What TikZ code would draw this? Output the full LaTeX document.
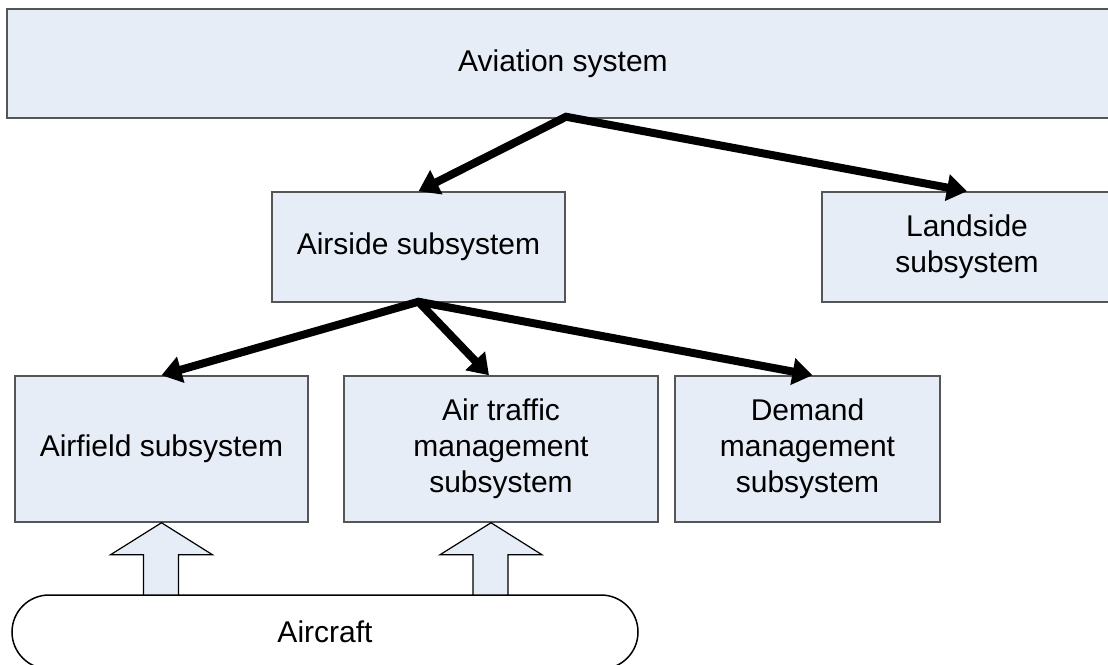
\documentclass[tikz,border=0pt]{standalone}
\usepackage{fontspec}
\setmainfont{Liberation Sans}
\usetikzlibrary{arrows.meta,calc}
\definecolor{boxfill}{RGB}{230,237,247}
\definecolor{boxline}{RGB}{85,85,85}
\begin{document}
\begin{tikzpicture}[x=1pt,y=-1pt,
  >={Triangle[length=20pt,width=26pt]},
  sysbox/.style={draw=boxline,line width=1.5pt,fill=boxfill,inner sep=0pt,align=center,
    font=\fontsize{30}{36}\selectfont},
  link/.style={line width=8pt,line join=miter},
  blockarrow/.style={draw=black,line width=1.2pt,fill=boxfill,line join=miter}]
\useasboundingbox (0,0) rectangle (1108,664);
\clip (0,0) rectangle (1108,664);

\node[sysbox,minimum width=1112pt,minimum height=109pt] (av) at (563,63.5) {\raisebox{-3pt}{Aviation system}};
\node[sysbox,minimum width=293pt,minimum height=110pt] (as) at (418.5,247) {\raisebox{-2pt}{Airside subsystem}};
\node[sysbox,minimum width=290pt,minimum height=110pt] (ls) at (967,247) {Landside\\subsystem};
\node[sysbox,minimum width=293pt,minimum height=146pt] (af) at (161.5,449) {Airfield subsystem};
\node[sysbox,minimum width=314pt,minimum height=146pt] (atm) at (501,449) {Air traffic\\management\\subsystem};
\node[sysbox,minimum width=265pt,minimum height=146pt] (dm) at (807.5,449) {Demand\\management\\subsystem};

\coordinate (avb) at ($(av.south)+(3,-2)$);
\coordinate (asb) at ($(as.south)+(0,-1)$);

% block arrows from aircraft
\draw[blockarrow] (af.south) -- ++(-51,32) -- ++(33,0) -- ++(0,41) -- ++(35,0) -- ++(0,-41) -- ++(34,0) -- cycle;
\draw[blockarrow] ($(atm.south)+(-10,0)$) -- ++(-51,32) -- ++(33,0) -- ++(0,41) -- ++(35,0) -- ++(0,-41) -- ++(34,0) -- cycle;

\node[draw=black,line width=1.5pt,fill=white,rounded corners=37pt,minimum width=626pt,minimum height=74pt,
  inner sep=0pt,font=\fontsize{30}{36}\selectfont] (ac) at (325,632) {Aircraft};

% connectors
\draw[link,<->] (as.north) -- (avb) -- (ls.north);
\draw[link,<->] (af.north) -- (asb) -- ($(dm.north)+(5,0)$);
\draw[link,->] (asb) -- ($(atm.north)+(-12,0)$);
\end{tikzpicture}
\end{document}
